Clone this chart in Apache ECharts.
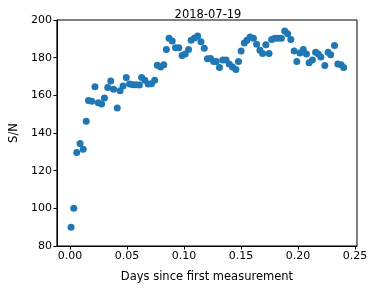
<!DOCTYPE html>
<html><head><meta charset="utf-8">
<script src="https://cdn.jsdelivr.net/npm/echarts@6/dist/echarts.min.js"></script>
<style>html,body{margin:0;padding:0;background:#fff}#c{width:374px;height:288px}</style>
</head><body><div id="c"></div>
<script>
const title = "2018-07-19";
const xLabel = "Days since first measurement";
const yLabel = "S/N";
const xTicks = [0, 0.05, 0.10, 0.15, 0.20, 0.25];
const yTicks = [80, 100, 120, 140, 160, 180, 200];
const days = [0.001,0.0034,0.006,0.0089,0.0117,0.0143,0.0163,0.0192,0.022,0.0249,0.0278,0.0303,0.0332,0.0358,0.0383,0.0415,0.044,0.0466,0.0494,0.0523,0.0552,0.058,0.0609,0.0629,0.0657,0.0686,0.0715,0.0743,0.0766,0.0795,0.0823,0.0846,0.0869,0.0897,0.0926,0.0955,0.0983,0.1011,0.104,0.1063,0.1092,0.112,0.1149,0.1178,0.1206,0.1233,0.126,0.1283,0.1311,0.134,0.1369,0.1397,0.1426,0.1455,0.1478,0.1501,0.1529,0.1552,0.158,0.1609,0.1637,0.1666,0.1689,0.1718,0.1746,0.1769,0.1797,0.1826,0.1854,0.1883,0.1909,0.1937,0.1966,0.1989,0.2017,0.2046,0.2074,0.2097,0.2126,0.2154,0.2177,0.22,0.2235,0.2263,0.2286,0.232,0.2349,0.2378,0.24];
const sn = [90,100.1,129.7,134.4,131.4,146.2,157.2,156.8,164.6,156.1,155.4,158.6,164.2,167.6,163.2,153.3,162.5,164.9,169.5,166,165.6,165.6,165.5,169.5,168,166,166.2,168,176,175,176.2,184.3,190.3,188.9,185.3,185.3,181.1,182,184.3,189.3,190.5,191.5,188.5,185,179.4,179.5,177.9,177.9,174.8,178.7,178.7,176.6,175.1,173.7,177.9,183.6,187.8,189.3,191,190.3,187.1,184,182.2,186.8,182.2,189.6,190.3,190.3,190.3,194.2,192.7,189.6,183.6,177.9,182.5,184.3,181.9,177.3,178.7,182.9,181.9,180.4,175.8,182.9,181.5,186.4,176.6,176.2,174.8];

const font = "DejaVu Sans";
const chart = echarts.init(document.getElementById('c'), null, {renderer:'canvas'});
chart.setOption({
  animation:false,
  backgroundColor:'#fff',
  title:{text:title,left:203,top:4,textAlign:'center',textStyle:{fontFamily:font,fontSize:11.5,fontWeight:'normal',color:'#000'}},
  grid:{left:50,top:20,width:307,height:228,show:true,borderColor:'#000',borderWidth:1,backgroundColor:'transparent'},
  xAxis:{type:'value',min:-0.0114,max:0.2517,
    name:xLabel,nameLocation:'middle',nameGap:25,nameTextStyle:{fontFamily:font,fontSize:11.5,color:'#000'},
    axisLine:{show:true,onZero:false,lineStyle:{color:'#000'}},
    splitLine:{show:false},
    axisTick:{show:true,length:3.5,lineStyle:{color:'#000'},customValues:xTicks},
    axisLabel:{fontFamily:font,fontSize:11,color:'#000',margin:5,customValues:xTicks,formatter:v=>v.toFixed(2)}},
  yAxis:{type:'value',min:80,max:200,interval:20,
    name:yLabel,nameLocation:'middle',nameGap:31,nameRotate:90,nameTextStyle:{fontFamily:font,fontSize:11.5,color:'#000'},
    axisLine:{show:true,onZero:false,lineStyle:{color:'#000'}},
    splitLine:{show:false},
    axisTick:{show:true,length:3.5,lineStyle:{color:'#000'}},
    axisLabel:{fontFamily:font,fontSize:11,color:'#000',margin:5}},
  series:[{type:'scatter',data:days.map((d,i)=>[d,sn[i]]),symbolSize:7,itemStyle:{color:'#1f77b4',opacity:1}}]
});
</script></body></html>
